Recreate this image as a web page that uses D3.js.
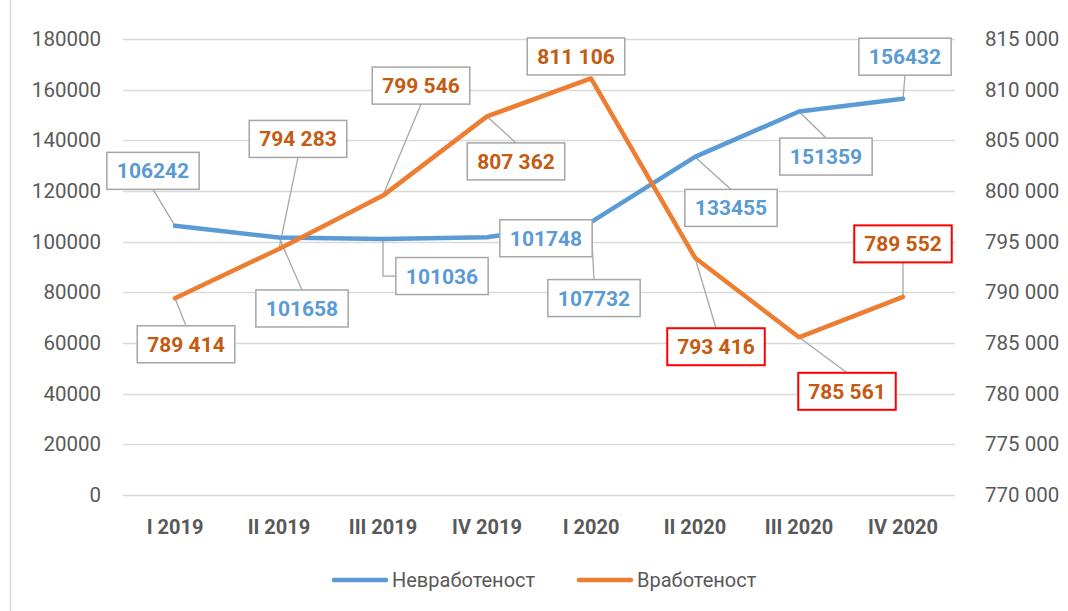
<!DOCTYPE html>
<html>
<head>
<meta charset="utf-8">
<script src="https://cdn.jsdelivr.net/npm/d3@7"></script>
<style>
  body { margin: 0; background: #fff; }
  svg { display: block; font-family: Roboto, "Open Sans", sans-serif; }
</style>
</head>
<body>
<svg width="1068" height="611"></svg>
<script>
// quarters and the two series
var quarters = ["I 2019", "II 2019", "III 2019", "IV 2019", "I 2020", "II 2020", "III 2020", "IV 2020"];
var unemployed = [106242, 101658, 101036, 101748, 107732, 133455, 151359, 156432];
var employed = [789414, 794283, 799546, 807362, 811106, 793416, 785561, 789552];
var seriesNames = ["Невработеност", "Вработеност"];
var leftTicks = [0, 20000, 40000, 60000, 80000, 100000, 120000, 140000, 160000, 180000];
var rightTicks = [770000, 775000, 780000, 785000, 790000, 795000, 800000, 805000, 810000, 815000];

// label placement (box centre relative to point, px)
var blueOffsets = [[-22, -55], [23, 71], [59, 37], [59, 1], [3, 76], [36, 51], [27, 45], [2, -42]];
var orangeOffsets = [[11, 46], [19, -110], [38, -110], [29, 45], [-15, -22], [21, 89], [48, 54], [0, -53]];
var redBoxes = [5, 6, 7];

var svg = d3.select("svg"),
    plotLeft = 123, plotRight = 955, plotTop = 39, plotBottom = 495;

var blue = "#5B9BD5", orange = "#ED7D31", grey = "#595959";

var x = d3.scaleBand().domain(quarters).range([plotLeft, plotRight]).padding(0),
    yL = d3.scaleLinear().domain([0, 180000]).range([plotBottom, plotTop]),
    yR = d3.scaleLinear().domain([770000, 815000]).range([plotBottom, plotTop]);

function cx(q) { return x(q) + x.bandwidth() / 2; }

// chart frame left edge
svg.append("line")
    .attr("x1", 10.5).attr("x2", 10.5).attr("y1", 0).attr("y2", 611)
    .attr("stroke", "#D9D9D9").attr("stroke-width", 1.5);

// gridlines
svg.append("g")
    .selectAll("line")
    .data(leftTicks)
    .enter().append("line")
    .attr("x1", plotLeft).attr("x2", plotRight)
    .attr("y1", function (d) { return Math.round(yL(d)) + 0.5; })
    .attr("y2", function (d) { return Math.round(yL(d)) + 0.5; })
    .attr("stroke", "#D9D9D9").attr("stroke-width", 1.3);

// left axis
var gl = svg.append("g")
    .attr("transform", "translate(101,0)")
    .call(d3.axisLeft(yL).tickValues(leftTicks).tickSize(0).tickPadding(0).tickFormat(d3.format("d")));
gl.select(".domain").remove();

// right axis
var fmtSpace = function (d) { return d3.format(",")(d).replace(/,/g, " "); };
var gr = svg.append("g")
    .attr("transform", "translate(985,0)")
    .call(d3.axisRight(yR).tickValues(rightTicks).tickSize(0).tickPadding(0).tickFormat(fmtSpace));
gr.select(".domain").remove();

svg.selectAll(".tick text")
    .style("font-size", "20.5px")
    .style("font-family", "Roboto, sans-serif")
    .attr("fill", grey);

// category labels
svg.append("g")
    .selectAll("text")
    .data(quarters)
    .enter().append("text")
    .attr("x", function (d) { return cx(d); })
    .attr("y", 534)
    .attr("text-anchor", "middle")
    .style("font-size", "20px")
    .style("font-weight", "bold")
    .attr("fill", grey)
    .text(function (d) { return d; });

// lines
var lineL = d3.line().x(function (d, i) { return cx(quarters[i]); }).y(function (d) { return yL(d); });
var lineR = d3.line().x(function (d, i) { return cx(quarters[i]); }).y(function (d) { return yR(d); });

var labelLayer = svg.append("g");

svg.append("path")
    .attr("d", lineL(unemployed))
    .attr("fill", "none").attr("stroke", blue).attr("stroke-width", 4.5)
    .attr("stroke-linecap", "round").attr("stroke-linejoin", "round");

svg.append("path")
    .attr("d", lineR(employed))
    .attr("fill", "none").attr("stroke", orange).attr("stroke-width", 4.5)
    .attr("stroke-linecap", "round").attr("stroke-linejoin", "round");

var boxLayer = svg.append("g");

// data labels with leader lines
function addLabels(values, yScale, offsets, txtColor, fmt, red) {
    values.forEach(function (v, i) {
        var px = cx(quarters[i]), py = yScale(v);
        var bx = px + offsets[i][0], by = py + offsets[i][1];
        var g = boxLayer.append("g");
        var rect = g.append("rect");
        var t = g.append("text")
            .attr("x", bx).attr("y", by)
            .attr("dy", "0.36em")
            .attr("text-anchor", "middle")
            .style("font-size", "21px")
            .style("font-weight", "bold")
            .attr("fill", txtColor)
            .text(fmt(v));
        var w = t.node().getComputedTextLength() + 20, h = 37;
        var x0 = bx - w / 2, x1 = bx + w / 2, y0 = by - h / 2, y1 = by + h / 2;
        var isRed = red.indexOf(i) >= 0;
        rect.attr("x", x0).attr("y", y0).attr("width", w).attr("height", h)
            .attr("fill", "#fff")
            .attr("stroke", isRed ? "#FF0000" : "#A6A6A6")
            .attr("stroke-width", isRed ? 2 : 1.5);

        var path;
        if (px >= x0 && px <= x1) {
            var ey = py < y0 ? y0 : y1;
            if (Math.abs(ey - py) < 16) return;
            path = "M" + px + "," + py + "L" + bx + "," + ey;
        } else if (py >= y0 && py <= y1) {
            var ex = px < x0 ? x0 : x1;
            if (Math.abs(ex - px) < 16) return;
            path = "M" + px + "," + py + "L" + ex + "," + by;
        } else {
            path = "M" + px + "," + py + "L" + px + "," + by + "L" + (px < x0 ? x0 : x1) + "," + by;
        }
        labelLayer.append("path")
            .attr("d", path)
            .attr("fill", "none")
            .attr("stroke", "#A6A6A6")
            .attr("stroke-width", 1.3);
    });
}

addLabels(unemployed, yL, blueOffsets, blue, d3.format("d"), []);
addLabels(employed, yR, orangeOffsets, "#C55A11", fmtSpace, redBoxes);

// legend
var legend = svg.append("g");
var legendItems = [
    {name: seriesNames[0], color: blue, x: 332},
    {name: seriesNames[1], color: orange, x: 577}
];
legendItems.forEach(function (d) {
    legend.append("line")
        .attr("x1", d.x + 2).attr("x2", d.x + 54)
        .attr("y1", 580).attr("y2", 580)
        .attr("stroke", d.color).attr("stroke-width", 4.5)
        .attr("stroke-linecap", "round");
    legend.append("text")
        .attr("x", d.x + 60).attr("y", 587)
        .style("font-size", "20px")
        .attr("fill", grey)
        .text(d.name);
});
</script>
</body>
</html>
